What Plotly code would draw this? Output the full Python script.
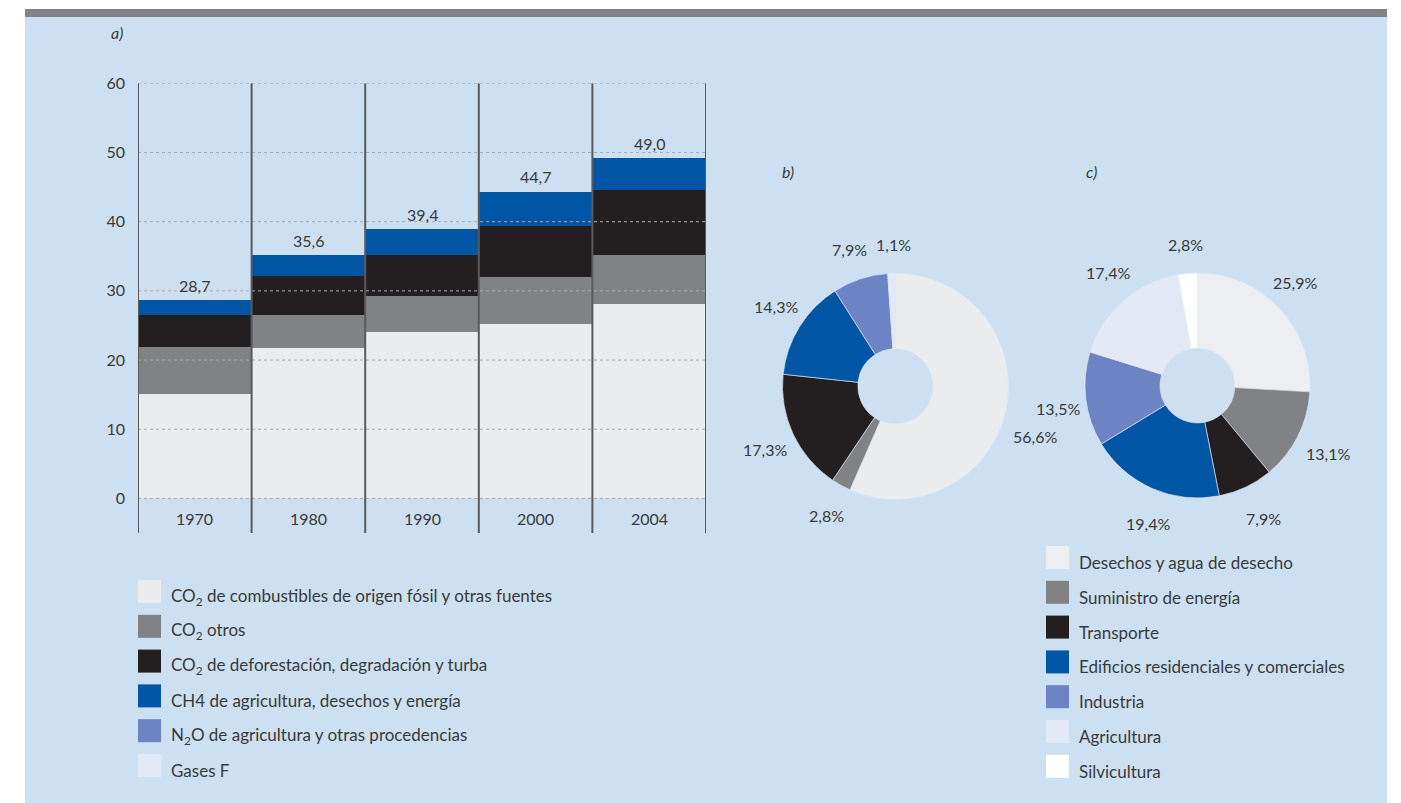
import math
import plotly.graph_objects as go

W, H = 1401, 803

# ---------------- data ----------------
years = ["1970", "1980", "1990", "2000", "2004"]
totals = [28.7, 35.6, 39.4, 44.7, 49.0]
co2_fossil = [15.0, 21.7, 24.0, 25.1, 28.0]
co2_other = [6.8, 4.7, 5.2, 6.9, 7.1]
co2_defor = [4.6, 5.7, 5.9, 7.4, 9.4]
ch4 = [2.2, 3.0, 3.8, 4.9, 4.6]

gas_labels = [
    "CO<sub>2</sub> de combustibles de origen fósil y otras fuentes",
    "CO<sub>2</sub> otros",
    "CO<sub>2</sub> de deforestación, degradación y turba",
    "CH4 de agricultura, desechos y energía",
    "N<sub>2</sub>O de agricultura y otras procedencias",
    "Gases F",
]
gas_share = [56.6, 2.8, 17.3, 14.3, 7.9, 1.1]

sector_labels = [
    "Desechos y agua de desecho",
    "Suministro de energía",
    "Transporte",
    "Edificios residenciales y comerciales",
    "Industria",
    "Agricultura",
    "Silvicultura",
]
sector_share = [25.9, 13.1, 7.9, 19.4, 13.5, 17.4, 2.8]

y_ticks = [0, 10, 20, 30, 40, 50, 60]

# ---------------- style ----------------
gas_colors = ["#EBECEE", "#808285", "#231F20", "#0055A5", "#6C84C4", "#E3E8F5"]
sector_colors = ["#EDEEF1", "#808285", "#231F20", "#0055A5", "#6C84C4", "#E3E8F5", "#FFFFFF"]
PANEL = "#CDE0F1"
TXT = "#3a3a3a"
FONT = "Lato, 'Open Sans', sans-serif"

# label placement tweaks for the pie percentages (angle offset in degrees, radius in px)
gas_lbl_dang = [8.1, -0.7, -1.0, 1.8, -0.3, 1.0]
gas_lbl_r = [148, 146, 145, 144, 144, 142]
sec_lbl_dang = [-3.4, 0.7, -0.9, -3.9, -2.2, 3.1, 0.2]
sec_lbl_r = [142, 147, 148, 147, 141, 144, 142]


def fx(px):
    return px / W


def fy(py):
    return 1 - py / H


def fmt(v, pct=False):
    s = f"{v:.1f}".replace(".", ",")
    return s + "%" if pct else s


fig = go.Figure()

bar_series = [co2_fossil, co2_other, co2_defor, ch4]
for vals, name, col in zip(bar_series, gas_labels, gas_colors):
    fig.add_trace(go.Bar(
        x=years, y=vals, name=name, marker=dict(color=col, line=dict(width=0)),
        width=1, showlegend=False, xaxis="x", yaxis="y",
    ))

# pies
PB = dict(cx=895.5, cy=386.3, r=113)
PC = dict(cx=1197.5, cy=385.5, r=112.5)


def pie_domain(p):
    return dict(x=[fx(p["cx"] - p["r"]), fx(p["cx"] + p["r"])],
                y=[fy(p["cy"] + p["r"]), fy(p["cy"] - p["r"])])


for labels, vals, cols, p in [(gas_labels, gas_share, gas_colors, PB),
                              (sector_labels, sector_share, sector_colors, PC)]:
    fig.add_trace(go.Pie(
        labels=labels, values=vals, sort=False, direction="clockwise", rotation=0,
        hole=0.333, domain=pie_domain(p), textinfo="none", showlegend=False,
        marker=dict(colors=cols, line=dict(color="rgba(225,232,242,0.8)", width=0.8)),
    ))

shapes = []
annotations = []

# background panel
shapes.append(dict(type="rect", xref="paper", yref="paper", x0=fx(25), x1=fx(1387),
                   y0=0, y1=fy(17), fillcolor=PANEL, line=dict(width=0), layer="below"))
shapes.append(dict(type="rect", xref="paper", yref="paper", x0=fx(25), x1=fx(1387),
                   y0=fy(17), y1=fy(9), fillcolor="#808285", line=dict(width=0), layer="below"))

# gridlines (drawn above bars)
for t in y_ticks:
    shapes.append(dict(type="line", xref="x", yref="y", x0=-0.5, x1=len(years) - 0.5,
                       y0=t, y1=t, line=dict(color="#ababab", width=1, dash="dot"), layer="above"))
# vertical separators
for i in range(len(years) + 1):
    shapes.append(dict(type="line", xref="x", yref="y", x0=i - 0.5, x1=i - 0.5,
                       y0=-5, y1=60, line=dict(color="#5a5a5c", width=2), layer="above"))

# category labels and totals
for i, (yr, tot) in enumerate(zip(years, totals)):
    annotations.append(dict(x=i, y=-2.9, xref="x", yref="y", text=yr, showarrow=False,
                            xanchor="center", yanchor="middle",
                            font=dict(size=16, color=TXT, family=FONT)))
    top = co2_fossil[i] + co2_other[i] + co2_defor[i] + ch4[i]
    annotations.append(dict(x=i, y=top, xref="x", yref="y", text=fmt(tot), showarrow=False,
                            xanchor="center", yanchor="middle",
                            yshift=15, font=dict(size=16, color=TXT, family=FONT)))

# panel letters
for txt, px, py in [("a)", 117, 32), ("b)", 788, 171.5), ("c)", 1091, 171.5)]:
    annotations.append(dict(x=fx(px), y=fy(py), xref="paper", yref="paper", text=f"<i>{txt}</i>",
                            xanchor="center", yanchor="middle",
                            showarrow=False, font=dict(size=16, color=TXT, family=FONT)))

# pie percentage labels (placed around the mid-angle of each slice)
for vals, p, dangs, radii in [(gas_share, PB, gas_lbl_dang, gas_lbl_r),
                              (sector_share, PC, sec_lbl_dang, sec_lbl_r)]:
    tot = sum(vals)
    cum = 0
    for v, da, rr in zip(vals, dangs, radii):
        mid = (cum + v / 2) / tot * 2 * math.pi + math.radians(da)
        cum += v
        px = p["cx"] + rr * math.sin(mid)
        py = p["cy"] - rr * math.cos(mid)
        annotations.append(dict(x=fx(px), y=fy(py), xref="paper", yref="paper", text=fmt(v, True),
                                xanchor="center", yanchor="middle",
                                showarrow=False, font=dict(size=16, color=TXT, family=FONT)))


# legends
def legend(labels, cols, x_sw, y_top0, step=34.8, size=23):
    for i, (lab, col) in enumerate(zip(labels, cols)):
        yt = y_top0 + i * step
        shapes.append(dict(type="rect", xref="paper", yref="paper", x0=fx(x_sw), x1=fx(x_sw + size),
                           y0=fy(yt + size), y1=fy(yt), fillcolor=col, line=dict(width=0)))
        annotations.append(dict(x=fx(x_sw + size + 8), y=fy(yt + size / 2 + 5), xref="paper", yref="paper",
                                text=lab, showarrow=False, xanchor="left", yanchor="middle",
                                font=dict(size=17, color=TXT, family=FONT)))


legend(gas_labels, gas_colors, 138, 580)
legend(sector_labels, sector_colors, 1046, 546)

fig.update_layout(
    template="none",
    width=W, height=H, autosize=False,
    margin=dict(l=0, r=0, t=0, b=0, pad=0, autoexpand=False),
    paper_bgcolor="white", plot_bgcolor="rgba(0,0,0,0)",
    barmode="stack", bargap=0,
    font=dict(family=FONT, color=TXT, size=16),
    xaxis=dict(type="category", domain=[fx(138), fx(706)], range=[-0.5, len(years) - 0.5],
               showgrid=False, showticklabels=False, zeroline=False, showline=False,
               automargin=False, ticks=""),
    yaxis=dict(domain=[fy(533), fy(83.3)], range=[-5, 60], tickvals=y_ticks,
               showgrid=False, zeroline=False, showline=False, ticklabelstandoff=12,
               automargin=False, ticks="",
               tickfont=dict(size=16, color=TXT, family=FONT)),
    shapes=shapes, annotations=annotations, showlegend=False,
)

post = ("document.body.style.margin='0';document.body.style.padding='0';"
        "var d=document.getElementById('{plot_id}');d.style.position='absolute';"
        "d.style.left='0px';d.style.top='0px';")
fig.write_html("out.html", post_script=post, config={"displayModeBar": False})
